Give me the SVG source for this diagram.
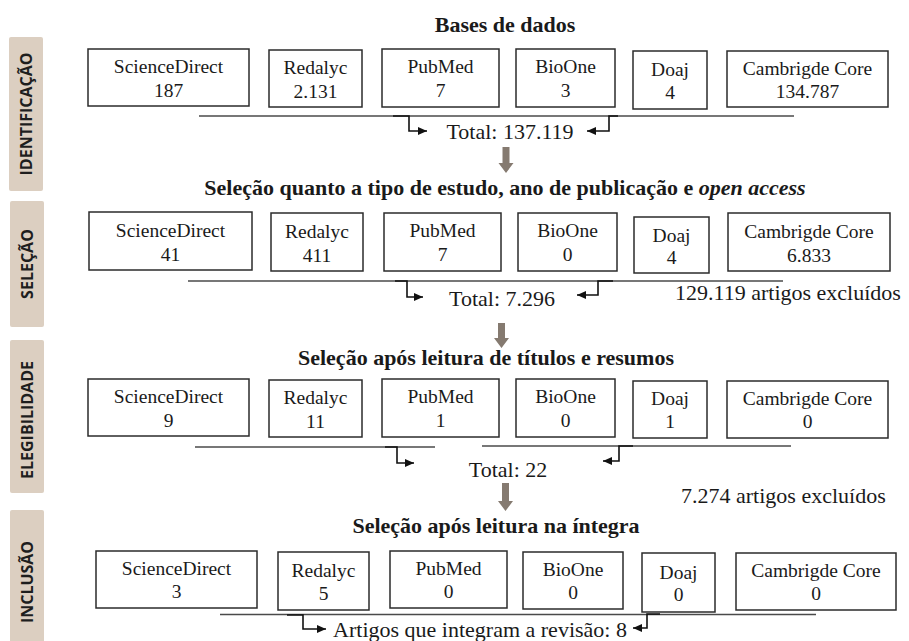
<svg xmlns="http://www.w3.org/2000/svg" width="909" height="641" viewBox="0 0 909 641">
<style>
.bg{fill:#ffffff}
.box{fill:#ffffff;stroke:#2b2b2b;stroke-width:1.5}
.bt{font-family:"Liberation Serif","Times New Roman",serif;font-size:19.5px;fill:#1a1a1a;text-anchor:middle}
.title{font-family:"Liberation Serif","Times New Roman",serif;font-size:22px;font-weight:bold;fill:#1a1a1a;text-anchor:middle}
.tt{font-family:"Liberation Serif","Times New Roman",serif;font-size:22px;fill:#1a1a1a}
.side{fill:#dccfc1}
.st{font-family:"Open Sans","Noto Sans",sans-serif;font-size:16px;font-weight:bold;fill:#1e1e1e;text-anchor:middle}
.hl{stroke:#4a4a4a;stroke-width:1.3;fill:none}
.el{stroke:#111;stroke-width:1.6;fill:none}
.down{fill:#857a70}
</style>
<defs>
<marker id="ah" markerUnits="userSpaceOnUse" markerWidth="10" markerHeight="8" refX="9" refY="4" orient="auto">
<path d="M0,0 L9,4 L0,8 Z" fill="#111"/>
</marker>
</defs>
<rect class="bg" x="0" y="0" width="909" height="641"/>

<g id="side-labels">
<g id="lbl-identificacao"><rect class="side" x="9" y="37" width="34" height="154" rx="2"/><text class="st" transform="translate(32,114) rotate(-90)">IDENTIFICAÇÃO</text></g>
<g id="lbl-selecao"><rect class="side" x="10" y="201" width="34" height="126" rx="2"/><text class="st" transform="translate(33,264) rotate(-90)">SELEÇÃO</text></g>
<g id="lbl-elegibilidade"><rect class="side" x="10" y="340" width="34" height="153" rx="2"/><text class="st" transform="translate(33,420) rotate(-90)">ELEGIBILIDADE</text></g>
<g id="lbl-inclusao"><rect class="side" x="10" y="510" width="34" height="140" rx="2"/><text class="st" transform="translate(33,582) rotate(-90)">INCLUSÃO</text></g>
</g>

<g id="titles">
<text class="title" x="505" y="32">Bases de dados</text>
<text class="title" x="505" y="195">Seleção quanto a tipo de estudo, ano de publicação e <tspan font-style="italic">open access</tspan></text>
<text class="title" x="486" y="365">Seleção após leitura de títulos e resumos</text>
<text class="title" x="496" y="533">Seleção após leitura na íntegra</text>
</g>

<!-- Row 1 -->
<g id="r1-sciencedirect"><rect class="box" x="88" y="49" width="161" height="57"/><text class="bt" x="168.5" y="73">ScienceDirect</text><text class="bt" x="168.5" y="97">187</text></g>
<g id="r1-redalyc"><rect class="box" x="269" y="50" width="93" height="57"/><text class="bt" x="315.5" y="74">Redalyc</text><text class="bt" x="315.5" y="98">2.131</text></g>
<g id="r1-pubmed"><rect class="box" x="382" y="49" width="117" height="58"/><text class="bt" x="440.5" y="73">PubMed</text><text class="bt" x="440.5" y="97">7</text></g>
<g id="r1-bioone"><rect class="box" x="516" y="49" width="99" height="58"/><text class="bt" x="565.5" y="73">BioOne</text><text class="bt" x="565.5" y="97">3</text></g>
<g id="r1-doaj"><rect class="box" x="633" y="51" width="74" height="58"/><text class="bt" x="670" y="76">Doaj</text><text class="bt" x="670" y="99">4</text></g>
<g id="r1-cambridge"><rect class="box" x="727" y="51" width="161" height="56"/><text class="bt" x="807.5" y="75">Cambrigde Core</text><text class="bt" x="807.5" y="98">134.787</text></g>
<g id="r1-total"><text class="tt" x="510" y="139" text-anchor="middle">Total: 137.119</text></g>

<!-- Row 2 -->
<g id="r2-sciencedirect"><rect class="box" x="89" y="212" width="163" height="58"/><text class="bt" x="170.5" y="237">ScienceDirect</text><text class="bt" x="170.5" y="261">41</text></g>
<g id="r2-redalyc"><rect class="box" x="271" y="213" width="92" height="58"/><text class="bt" x="317" y="238">Redalyc</text><text class="bt" x="317" y="262">411</text></g>
<g id="r2-pubmed"><rect class="box" x="384" y="213" width="117" height="58"/><text class="bt" x="442.5" y="237">PubMed</text><text class="bt" x="442.5" y="261">7</text></g>
<g id="r2-bioone"><rect class="box" x="518" y="213" width="99" height="58"/><text class="bt" x="567.5" y="237">BioOne</text><text class="bt" x="567.5" y="261">0</text></g>
<g id="r2-doaj"><rect class="box" x="634" y="217" width="75" height="56"/><text class="bt" x="671.5" y="242">Doaj</text><text class="bt" x="671.5" y="264">4</text></g>
<g id="r2-cambridge"><rect class="box" x="728" y="213" width="162" height="58"/><text class="bt" x="809" y="238">Cambrigde Core</text><text class="bt" x="809" y="262">6.833</text></g>
<g id="r2-total"><text class="tt" x="502" y="306" text-anchor="middle">Total: 7.296</text></g>
<g id="r2-excluded"><text class="tt" x="675" y="300">129.119 artigos excluídos</text></g>

<!-- Row 3 -->
<g id="r3-sciencedirect"><rect class="box" x="88" y="379" width="161" height="57"/><text class="bt" x="168.5" y="403">ScienceDirect</text><text class="bt" x="168.5" y="427">9</text></g>
<g id="r3-redalyc"><rect class="box" x="269" y="380" width="93" height="57"/><text class="bt" x="315.5" y="404">Redalyc</text><text class="bt" x="315.5" y="428">11</text></g>
<g id="r3-pubmed"><rect class="box" x="382" y="379" width="117" height="58"/><text class="bt" x="440.5" y="403">PubMed</text><text class="bt" x="440.5" y="427">1</text></g>
<g id="r3-bioone"><rect class="box" x="516" y="379" width="99" height="58"/><text class="bt" x="565.5" y="403">BioOne</text><text class="bt" x="565.5" y="427">0</text></g>
<g id="r3-doaj"><rect class="box" x="633" y="381" width="74" height="57"/><text class="bt" x="670" y="405">Doaj</text><text class="bt" x="670" y="428">1</text></g>
<g id="r3-cambridge"><rect class="box" x="727" y="381" width="161" height="57"/><text class="bt" x="807.5" y="405">Cambrigde Core</text><text class="bt" x="807.5" y="428">0</text></g>
<g id="r3-total"><text class="tt" x="508" y="477" text-anchor="middle">Total: 22</text></g>
<g id="r3-excluded"><text class="tt" x="681" y="503">7.274 artigos excluídos</text></g>

<!-- Row 4 -->
<g id="r4-sciencedirect"><rect class="box" x="96" y="551" width="161" height="57"/><text class="bt" x="176.5" y="575">ScienceDirect</text><text class="bt" x="176.5" y="598">3</text></g>
<g id="r4-redalyc"><rect class="box" x="278" y="552" width="91" height="58"/><text class="bt" x="323.5" y="577">Redalyc</text><text class="bt" x="323.5" y="600">5</text></g>
<g id="r4-pubmed"><rect class="box" x="390" y="551" width="117" height="57"/><text class="bt" x="448.5" y="575">PubMed</text><text class="bt" x="448.5" y="598">0</text></g>
<g id="r4-bioone"><rect class="box" x="523" y="552" width="100" height="57"/><text class="bt" x="573" y="576">BioOne</text><text class="bt" x="573" y="599">0</text></g>
<g id="r4-doaj"><rect class="box" x="642" y="553" width="73" height="59"/><text class="bt" x="678.5" y="579">Doaj</text><text class="bt" x="678.5" y="601">0</text></g>
<g id="r4-cambridge"><rect class="box" x="736" y="553" width="160" height="57"/><text class="bt" x="816" y="577">Cambrigde Core</text><text class="bt" x="816" y="600">0</text></g>
<g id="r4-result"><text class="tt" x="480" y="637" text-anchor="middle">Artigos que integram a revisão: 8</text></g>

<g id="connectors">
<!-- row 1 -->
<line class="hl" x1="199" y1="116" x2="794" y2="116"/>
<path class="el" d="M393,116 H409 V131 H427" marker-end="url(#ah)"/>
<path class="el" d="M618,116 H609 V131 H587" marker-end="url(#ah)"/>
<path class="down" d="M502.5,147 H509.5 V163 H513.5 L506,173 L498.5,163 H502.5 Z"/>
<!-- row 2 -->
<line class="hl" x1="188" y1="281" x2="783" y2="281"/>
<path class="el" d="M395,281 H407 V297 H423" marker-end="url(#ah)"/>
<path class="el" d="M613,281 H598 V295 H577" marker-end="url(#ah)"/>
<path class="down" d="M498,323 H505 V338 H509 L501.5,348 L494,338 H498 Z"/>
<!-- row 3 -->
<line class="hl" x1="195" y1="447" x2="435" y2="447"/>
<line class="hl" x1="482" y1="446" x2="791" y2="446"/>
<path class="el" d="M385,447 H397 V463 H414" marker-end="url(#ah)"/>
<path class="el" d="M633,446 H619 V461 H603" marker-end="url(#ah)"/>
<path class="down" d="M502,483 H509 V501 H513 L505.5,511 L498,501 H502 Z"/>
<!-- row 4 -->
<line class="hl" x1="220" y1="614.5" x2="816" y2="614.5"/>
<path class="el" d="M287,615 H303 V629 H326" marker-end="url(#ah)"/>
<path class="el" d="M660,614 H647 V628 H633" marker-end="url(#ah)"/>
</g>
</svg>
